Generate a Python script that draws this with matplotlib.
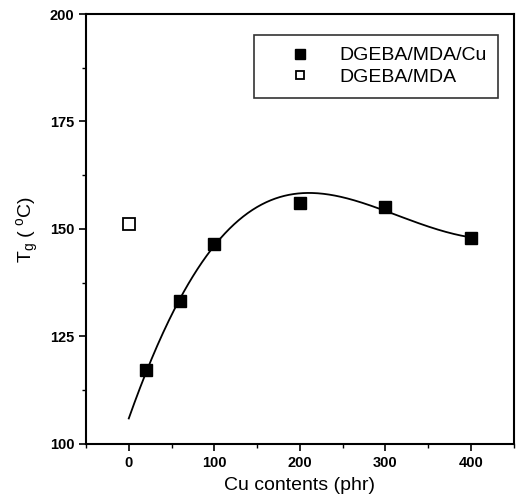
import matplotlib
matplotlib.use("Agg")
import matplotlib.pyplot as plt
from matplotlib.ticker import MultipleLocator
import numpy as np

plt.rcParams['font.family'] = ['Liberation Sans', 'DejaVu Sans']
plt.rcParams['mathtext.default'] = 'regular'

# data
cu = [20, 60, 100, 200, 300, 400]
tg_cu = [117.2, 133.3, 146.5, 156.1, 155.0, 148.0]
cu0 = [0]
tg_ref = [151.1]

# trend line
fit_x = [0, 10, 20, 34, 47, 61, 79, 100, 124, 151, 178, 205, 230, 255, 280, 300, 328, 363, 400]
fit_y = [105.5, 111.4, 117.3, 123.4, 128.6, 133.5, 140.1, 146.5, 151.3, 155.2, 157.5, 158.5,
         158.2, 156.9, 155.4, 154.4, 152.1, 149.8, 148.0]

# smooth the traced points with a polynomial
coef = np.polyfit(fit_x, fit_y, 5)
xs = np.linspace(0, 400, 300)
ys = np.polyval(coef, xs)

fig = plt.figure(figsize=(5.18, 5.01), dpi=100)
ax = fig.add_axes([0.166, 0.114, 0.826, 0.858])

ax.plot(xs, ys, color='black', lw=1.3)
ax.plot(cu, tg_cu, 's', color='black', ms=9, label='DGEBA/MDA/Cu')
ax.plot(cu0, tg_ref, 's', mfc='white', mec='black', mew=1.3, ms=8, label='DGEBA/MDA')

ax.set_xlim(-50, 450)
ax.set_ylim(100, 200)
ax.xaxis.set_major_locator(MultipleLocator(100))
ax.xaxis.set_minor_locator(MultipleLocator(50))
ax.yaxis.set_major_locator(MultipleLocator(25))
ax.yaxis.set_minor_locator(MultipleLocator(12.5))
ax.tick_params(which='major', direction='out', length=5, width=1.2, labelsize=10.5)
ax.tick_params(which='minor', direction='out', length=3, width=1.0)
for lab in ax.get_xticklabels() + ax.get_yticklabels():
    lab.set_fontweight('bold')
for s in ax.spines.values():
    s.set_linewidth(1.5)

ax.set_xlabel('Cu contents (phr)', fontsize=14, labelpad=5)
ax.set_ylabel(r'T$_g$ ( $^o$C)', fontsize=14, labelpad=6)

leg = ax.legend(loc='upper right', bbox_to_anchor=(0.963, 0.951), borderaxespad=0,
                fontsize=14, frameon=True, fancybox=False, edgecolor='black',
                markerscale=0.75, handlelength=3.5, handletextpad=0.25,
                borderpad=0.6, labelspacing=0.2)
leg.get_frame().set_linewidth(1.2)

fig.savefig('out.png', dpi=100)
